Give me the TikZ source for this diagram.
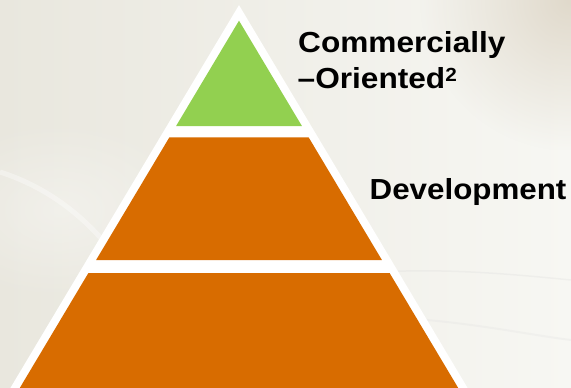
\documentclass[tikz,border=0pt]{standalone}
\usepackage{fontspec}
\setmainfont{Liberation Sans}
\usetikzlibrary{fadings}
\definecolor{pgreen}{HTML}{92D050}
\definecolor{porange}{HTML}{D86C00}
\definecolor{bgleft}{HTML}{E9E7DE}
\definecolor{bgright}{HTML}{F7F7F3}
\definecolor{bgtan}{HTML}{E0D9CB}
\tikzfading[name=radfade, inner color=transparent!0, outer color=transparent!100]
\begin{document}
\begin{tikzpicture}[x=1pt,y=-1pt,
  lbl/.style={inner sep=0pt, anchor=base west, font=\fontsize{29}{30}\selectfont\bfseries},
  tier/.style={draw=none}]
\useasboundingbox (0,0) rectangle (571,388);
\clip (0,0) rectangle (571,388);
% background
\shade[left color=bgleft, right color=bgright] (0,0) rectangle (571,388);
\fill[bgtan, path fading=radfade] (420,-150) rectangle (720,150);
\fill[white, opacity=0.35, path fading=radfade] (-80,120) rectangle (200,300);
\draw[white, opacity=0.35, line width=5] (0,172) .. controls (50,188) and (90,220) .. (120,262);
\draw[gray!30, opacity=0.25, line width=1.5] (380,272) .. controls (450,268) and (520,275) .. (571,280);
\draw[gray!25, opacity=0.25, line width=2] (400,318) .. controls (470,322) and (530,335) .. (571,340);
% pyramid outline
\fill[white] (239,5.1) -- (474.8,400) -- (3.2,400) -- cycle;
% tiers
\fill[pgreen, tier] (239,20.7) -- (301.9,126) -- (176.1,126) -- cycle;
\fill[porange, tier] (169.4,137.3) -- (308.6,137.3) -- (381.9,260) -- (96.1,260) -- cycle;
\fill[porange, tier] (88.4,273) -- (389.6,273) -- (465.4,400) -- (12.6,400) -- cycle;
% labels
\node[lbl] (c1) at (298,52.3) {\scalebox{1.09}[1]{Commercially}};
\node[lbl] (c2) at (297.5,88.3) {\scalebox{1.09}[1]{–Oriented\raisebox{7pt}{\fontsize{19}{19}\selectfont 2}}};
\node[lbl] (dev) at (369.5,199) {\scalebox{1.08}[1]{Development}};
\end{tikzpicture}
\end{document}
